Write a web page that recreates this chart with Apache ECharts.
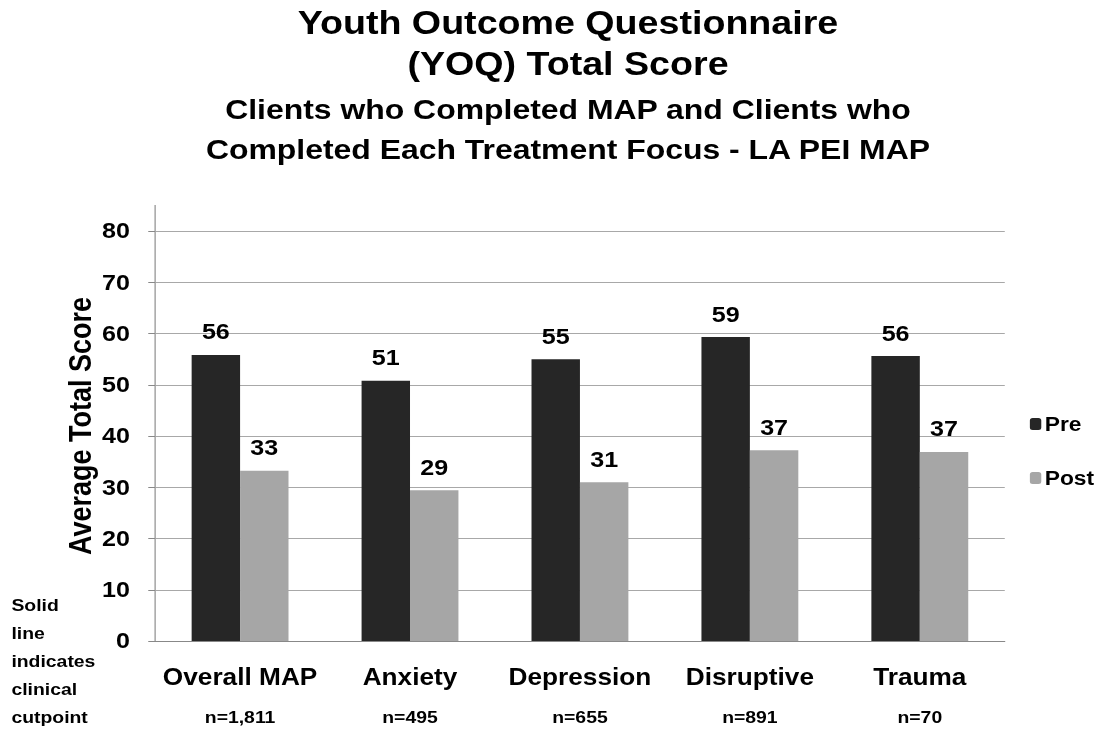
<!DOCTYPE html>
<html>
<head>
<meta charset="utf-8">
<title>YOQ Total Score</title>
<script src="https://cdn.jsdelivr.net/npm/echarts@6/dist/echarts.min.js"></script>
<style>
  html, body { margin: 0; padding: 0; background: #fff; overflow: hidden; }
  /* the source slide is stretched sideways, so draw narrower and widen it */
  #chart { width: 975px; height: 734px; transform: scaleX(1.1405); transform-origin: 0 0; }
</style>
</head>
<body>
<div id="chart"></div>
<script>
const categories = ['Overall MAP', 'Anxiety', 'Depression', 'Disruptive', 'Trauma']
const sampleSizes = ['n=1,811', 'n=495', 'n=655', 'n=891', 'n=70']
const preScores = [55.8, 50.8, 55.0, 59.3, 55.6]
const postScores = [33.2, 29.4, 31.0, 37.2, 36.9]
const preLabels = ['56', '51', '55', '59', '56']
const postLabels = ['33', '29', '31', '37', '37']
const cutpoint = 46.4
const yTicks = [0, 10, 20, 30, 40, 50, 60, 70, 80]

const font = '"Liberation Sans", Arial, sans-serif'
const chart = echarts.init(document.getElementById('chart'), null, { renderer: 'svg' })

chart.setOption({
  animation: false,
  legend: {
    orient: 'vertical',
    left: 898,
    top: 409,
    itemWidth: 10,
    itemHeight: 12,
    itemGap: 34,
    textStyle: { fontFamily: font, fontSize: 20, fontWeight: 'bold', color: '#000', padding: [0, 0, 0, -2] },
    data: ['Pre', 'Post']
  },
  grid: { left: 136, right: 94, top: 231, bottom: 93 },
  xAxis: {
    type: 'category',
    data: categories.map((c, i) => c + '\n' + sampleSizes[i]),
    axisLine: { lineStyle: { color: '#888', width: 1 } },
    axisTick: { show: false },
    axisLabel: {
      margin: 18,
      formatter: v => {
        const [name, n] = v.split('\n')
        return '{a|' + name + '}\n{b|' + n + '}'
      },
      rich: {
        a: { fontFamily: font, fontSize: 23, fontWeight: 'bold', color: '#000', lineHeight: 36 },
        b: { fontFamily: font, fontSize: 17, fontWeight: 'bold', color: '#000', lineHeight: 44 }
      }
    }
  },
  yAxis: {
    type: 'value',
    min: 0,
    max: 80,
    interval: 10,
    name: 'Average Total Score',
    nameLocation: 'middle',
    nameGap: 52,
    nameMoveOverlap: false,
    nameTextStyle: { fontFamily: font, fontSize: 27, fontWeight: 'bold', color: '#000', padding: [0, 0, 0, 20] },
    axisLine: { show: false },
    axisTick: { show: true, length: 6, lineStyle: { color: '#888' } },
    axisLabel: {
      margin: 22,
      fontFamily: font, fontSize: 22, fontWeight: 'bold', color: '#000',
      formatter: v => (yTicks.includes(v) ? String(v) : '')
    },
    splitLine: { lineStyle: { color: '#a8a8a8', width: 1 } }
  },
  graphic: [
    {
      type: 'text',
      x: 498,
      y: 43,
      style: {
        text: 'Youth Outcome Questionnaire\n(YOQ) Total Score',
        textAlign: 'center', textVerticalAlign: 'middle',
        fontFamily: font, fontSize: 33, fontWeight: 'bold', fill: '#000', lineHeight: 41
      }
    },
    {
      type: 'text',
      x: 498,
      y: 129,
      style: {
        text: 'Clients who Completed MAP and Clients who\nCompleted Each Treatment Focus - LA PEI MAP',
        textAlign: 'center', textVerticalAlign: 'middle',
        fontFamily: font, fontSize: 28, fontWeight: 'bold', fill: '#000', lineHeight: 40
      }
    },
    {
      type: 'line',
      shape: { x1: 136, y1: 205, x2: 136, y2: 641 },
      style: { stroke: '#888', lineWidth: 1 }
    },
    {
      type: 'text',
      left: 10,
      top: 591,
      style: {
        text: 'Solid\nline\nindicates\nclinical\ncutpoint',
        fontFamily: font, fontSize: 17, fontWeight: 'bold', fill: '#000', lineHeight: 28
      }
    }
  ],
  series: [
    {
      name: 'Pre',
      type: 'bar',
      data: preScores,
      barGap: '0%',
      barCategoryGap: '43%',
      itemStyle: { color: '#262626' },
      label: {
        show: true, position: 'top', distance: 12,
        formatter: p => preLabels[p.dataIndex],
        fontFamily: font, fontSize: 22, fontWeight: 'bold', color: '#000'
      },
      markLine: {
        silent: true,
        symbol: 'none',
        label: { show: false },
        lineStyle: {
          type: 'solid', color: '#000', width: 4,
          shadowColor: 'rgba(0,0,0,0.35)', shadowBlur: 6, shadowOffsetY: 3
        },
        data: [{ yAxis: cutpoint }]
      }
    },
    {
      name: 'Post',
      type: 'bar',
      data: postScores,
      itemStyle: { color: '#a6a6a6' },
      label: {
        show: true, position: 'top', distance: 12,
        formatter: p => postLabels[p.dataIndex],
        fontFamily: font, fontSize: 22, fontWeight: 'bold', color: '#000'
      }
    }
  ]
})
</script>
</body>
</html>
